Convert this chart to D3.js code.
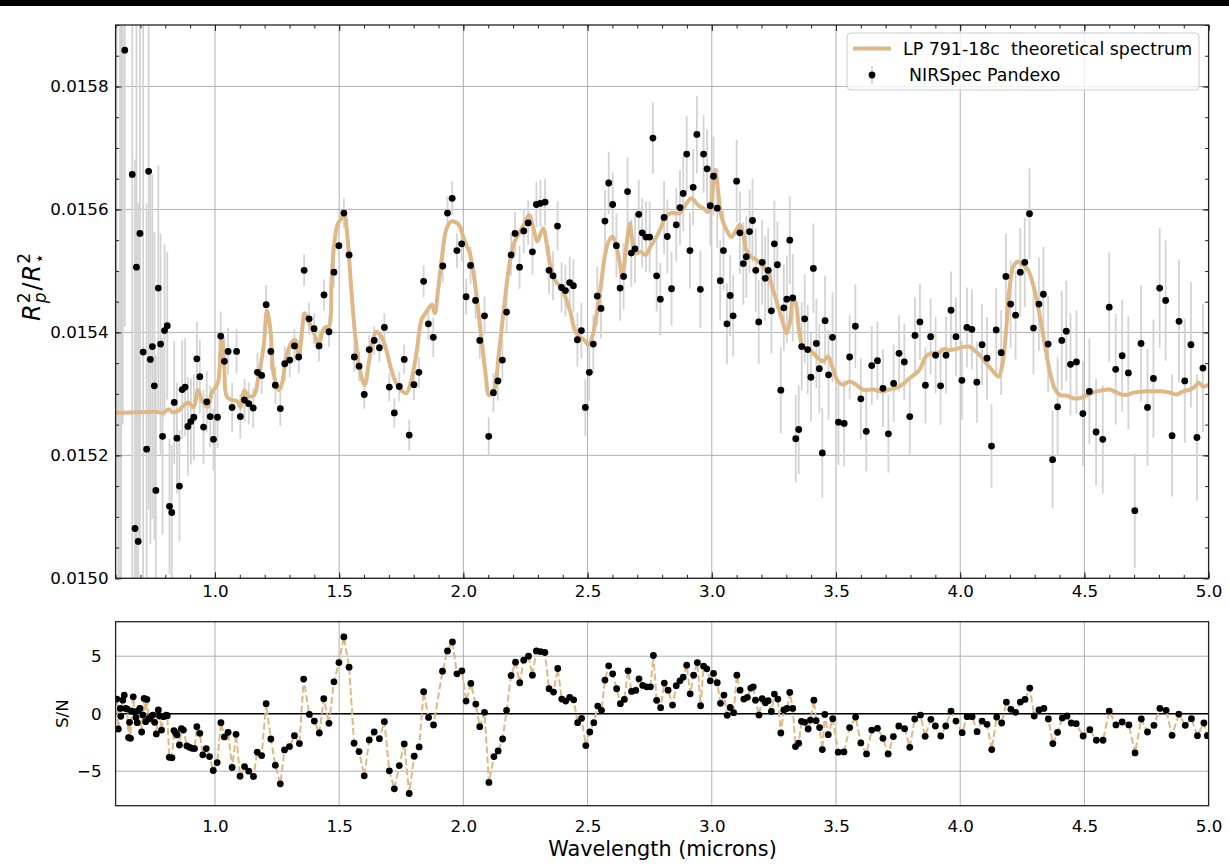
<!DOCTYPE html>
<html lang="en">
<head>
    <meta charset="UTF-8"/>
    <title>LP 791-18c transmission spectrum</title>
    <script src="https://d3js.org/d3.v7.min.js"></script>
    <style>
        body { margin: 0; background: #fff; }
        text { font-family: "DejaVu Sans", sans-serif; fill: #000; }
    </style>
</head>
<body>
<script>
    // model spectrum [wavelength, Rp^2/R*^2]
    var modelSpectrum = [[0.600,0.015269],[0.700,0.015270],[0.760,0.015271],[0.790,0.015269],[0.814,0.015275],[0.830,0.015270],[0.854,0.015273],[0.874,0.015281],[0.894,0.015286],[0.914,0.015278],[0.932,0.015306],[0.948,0.015289],[0.971,0.015279],[0.988,0.015303],[1.004,0.015312],[1.014,0.015322],[1.026,0.015394],[1.037,0.015350],[1.048,0.015295],[1.070,0.015290],[1.090,0.015288],[1.102,0.015278],[1.118,0.015306],[1.135,0.015297],[1.156,0.015297],[1.176,0.015330],[1.196,0.015377],[1.2095,0.015435],[1.223,0.015405],[1.236,0.015333],[1.257,0.015306],[1.270,0.015317],[1.286,0.015358],[1.307,0.015383],[1.323,0.015388],[1.337,0.015358],[1.350,0.015400],[1.361,0.015431],[1.374,0.015420],[1.395,0.015403],[1.418,0.015380],[1.435,0.015404],[1.448,0.015409],[1.460,0.015410],[1.469,0.015480],[1.479,0.015540],[1.493,0.015575],[1.509,0.015586],[1.520,0.015594],[1.533,0.015556],[1.549,0.015469],[1.565,0.015393],[1.583,0.015339],[1.603,0.015315],[1.619,0.015350],[1.636,0.015388],[1.650,0.015401],[1.670,0.015393],[1.690,0.015371],[1.710,0.015339],[1.730,0.015317],[1.750,0.015306],[1.770,0.015301],[1.791,0.015323],[1.811,0.015366],[1.831,0.015420],[1.847,0.015431],[1.860,0.015439],[1.874,0.015445],[1.885,0.015431],[1.898,0.015469],[1.914,0.015523],[1.931,0.015567],[1.949,0.015580],[1.965,0.015580],[1.982,0.015575],[1.999,0.015556],[2.012,0.015542],[2.025,0.015530],[2.039,0.015502],[2.055,0.015453],[2.072,0.015393],[2.090,0.015330],[2.103,0.015298],[2.123,0.015306],[2.143,0.015366],[2.164,0.015442],[2.184,0.015507],[2.204,0.015545],[2.224,0.015561],[2.244,0.015575],[2.264,0.015591],[2.282,0.015569],[2.298,0.015548],[2.311,0.015561],[2.322,0.015569],[2.335,0.015545],[2.351,0.015507],[2.372,0.015483],[2.392,0.015474],[2.412,0.015456],[2.432,0.015431],[2.448,0.015404],[2.466,0.015393],[2.486,0.015388],[2.502,0.015380],[2.519,0.015393],[2.537,0.015431],[2.553,0.015474],[2.569,0.015523],[2.585,0.015548],[2.600,0.015556],[2.613,0.015545],[2.627,0.015518],[2.640,0.015493],[2.653,0.015529],[2.670,0.015577],[2.680,0.015550],[2.694,0.015529],[2.714,0.015531],[2.734,0.015526],[2.754,0.015540],[2.774,0.015553],[2.794,0.015569],[2.814,0.015588],[2.835,0.015594],[2.871,0.015594],[2.891,0.015605],[2.918,0.015618],[2.945,0.015607],[2.965,0.015602],[2.985,0.015596],[2.998,0.015610],[3.008,0.015653],[3.014,0.015664],[3.025,0.015632],[3.039,0.015588],[3.059,0.015567],[3.079,0.015555],[3.099,0.015567],[3.112,0.015575],[3.126,0.015561],[3.139,0.015534],[3.159,0.015523],[3.180,0.015518],[3.206,0.015507],[3.226,0.015496],[3.247,0.015469],[3.267,0.015442],[3.287,0.015415],[3.300,0.015399],[3.314,0.015415],[3.327,0.015453],[3.338,0.015448],[3.351,0.015404],[3.367,0.015377],[3.394,0.015372],[3.421,0.015361],[3.448,0.015353],[3.468,0.015361],[3.485,0.015344],[3.508,0.015320],[3.528,0.015315],[3.555,0.015320],[3.581,0.015315],[3.608,0.015307],[3.648,0.015307],[3.688,0.015304],[3.715,0.015307],[3.755,0.015312],[3.795,0.015325],[3.836,0.015339],[3.862,0.015361],[3.883,0.015366],[3.909,0.015366],[3.936,0.015373],[3.956,0.015371],[3.983,0.015373],[4.010,0.015376],[4.037,0.015377],[4.057,0.015371],[4.084,0.015361],[4.111,0.015347],[4.138,0.015334],[4.155,0.015328],[4.171,0.015350],[4.185,0.015404],[4.198,0.015469],[4.214,0.015507],[4.231,0.015515],[4.252,0.015510],[4.272,0.015502],[4.292,0.015480],[4.321,0.015426],[4.342,0.015377],[4.362,0.015334],[4.382,0.015307],[4.402,0.015298],[4.429,0.015297],[4.456,0.015293],[4.483,0.015293],[4.509,0.015298],[4.550,0.015304],[4.603,0.015307],[4.630,0.015302],[4.664,0.015298],[4.697,0.015302],[4.737,0.015304],[4.778,0.015304],[4.818,0.015304],[4.845,0.015302],[4.872,0.015299],[4.898,0.015304],[4.925,0.015307],[4.945,0.015312],[4.959,0.015318],[4.979,0.015312],[5.000,0.015315]];

    // simulated NIRSpec points [wavelength, depth, 1-sigma error]
    var pandexoPoints = [[0.604,0.01630,0.0012],[0.611,0.01420,0.0013],[0.618,0.01620,0.0020],[0.622,0.01475,0.0022],[0.629,0.01615,0.0009],
        [0.637,0.015859,0.00045],[0.667,0.015657,0.00080],[0.678,0.015081,0.00060],[0.684,0.015506,0.00070],[0.691,0.015060,0.00055],[0.698,0.015561,0.00050],[0.711,0.015368,0.00060],[0.725,0.015210,0.00040],[0.733,0.015662,0.00055],[0.740,0.015356,0.00030],[0.748,0.015377,0.00028],[0.756,0.015313,0.00025],[0.762,0.015143,0.00022],[0.772,0.015472,0.00020],[0.781,0.015381,0.00018],[0.789,0.015231,0.00016],[0.797,0.015403,0.00014],[0.808,0.015411,0.00012],[0.817,0.015117,0.00011],[0.826,0.015107,0.00011],[0.836,0.015286,0.00010],[0.847,0.015228,0.00009],[0.857,0.015150,0.00009],[0.868,0.015307,0.00008],[0.880,0.015311,0.00008],[0.891,0.015247,0.00008],[0.903,0.015255,0.00007],[0.915,0.015262,0.00007],[0.927,0.015357,0.00006],[0.939,0.015328,0.00006],[0.954,0.015246,0.00006],[0.967,0.015287,0.00005],[0.981,0.015263,0.00005],[0.994,0.015226,0.00005],
        [1.010,0.015262,0.000050],[1.023,0.015394,0.000040],[1.038,0.015353,0.000040],[1.053,0.015369,0.000038],[1.069,0.015278,0.000040],[1.087,0.015369,0.000036],[1.102,0.015263,0.000036],[1.119,0.015290,0.000034],[1.136,0.015284,0.000034],[1.154,0.015277,0.000032],[1.171,0.015335,0.000032],[1.188,0.015330,0.000030],[1.206,0.015445,0.000032],[1.225,0.015369,0.000030],[1.243,0.015314,0.000030],[1.263,0.015276,0.000028],[1.281,0.015349,0.000028],[1.301,0.015355,0.000028],[1.320,0.015378,0.000027],[1.337,0.015360,0.000027],
        [1.359,0.015501,0.000026],[1.379,0.015422,0.000026],[1.399,0.015406,0.000025],[1.419,0.015378,0.000025],[1.439,0.015461,0.000025],[1.459,0.015401,0.000025],[1.479,0.015498,0.000025],[1.499,0.015541,0.000024],[1.519,0.015594,0.000024],[1.540,0.015526,0.000024],[1.561,0.015360,0.000024],[1.580,0.015345,0.000024],[1.601,0.015299,0.000023],[1.621,0.015372,0.000023],[1.641,0.015387,0.000023],[1.662,0.015375,0.000023],[1.682,0.015408,0.000023],[1.702,0.015311,0.000023],[1.722,0.015269,0.000024],[1.742,0.015312,0.000024],[1.762,0.015356,0.000024],[1.782,0.015233,0.000025],[1.801,0.015315,0.000025],[1.821,0.015335,0.000025],[1.840,0.015483,0.000026],[1.859,0.015414,0.000026],[1.879,0.015392,0.000032],[1.917,0.015508,0.000027],[1.936,0.015594,0.000027],[1.955,0.015618,0.000028],[1.974,0.015533,0.000028],[1.993,0.015544,0.000029],[2.011,0.015458,0.000029],[2.029,0.015509,0.000030],[2.049,0.015452,0.000030],[2.066,0.015387,0.000030],[2.085,0.015427,0.000031],
        [2.102,0.015231,0.000031],[2.121,0.015302,0.000032],[2.139,0.015321,0.000032],[2.157,0.015355,0.000033],[2.174,0.015433,0.000033],[2.192,0.015526,0.000034],[2.208,0.015561,0.000035],[2.226,0.015506,0.000035],[2.243,0.015565,0.000036],[2.261,0.015578,0.000036],[2.278,0.015531,0.000037],[2.294,0.015608,0.000037],[2.310,0.015610,0.000038],[2.329,0.015612,0.000038],[2.345,0.015501,0.000039],[2.361,0.015492,0.000040],[2.379,0.015573,0.000040],[2.395,0.015473,0.000041],[2.411,0.015468,0.000042],[2.428,0.015481,0.000042],[2.443,0.015476,0.000043],[2.459,0.015388,0.000044],[2.475,0.015403,0.000045],[2.491,0.015278,0.000046],[2.507,0.015335,0.000046],[2.523,0.015381,0.000047],[2.539,0.015459,0.000048],[2.554,0.015439,0.000049],[2.570,0.015581,0.000050],[2.585,0.015643,0.000051],[2.601,0.015608,0.000052],[2.616,0.015541,0.000052],[2.631,0.015472,0.000053],[2.645,0.015491,0.000054],[2.661,0.015629,0.000055],[2.676,0.015529,0.000055],[2.691,0.015536,0.000056],[2.706,0.015592,0.000056],[2.720,0.015562,0.000057],[2.735,0.015555,0.000057],[2.750,0.015555,0.000058],[2.763,0.015716,0.000058],[2.778,0.015492,0.000058],[2.793,0.015454,0.000059],[2.808,0.015587,0.000059],[2.821,0.015556,0.000060],[2.838,0.015471,0.000060],
        [2.857,0.015575,0.000060],[2.872,0.015603,0.000061],[2.885,0.015626,0.000061],[2.899,0.015690,0.000062],[2.912,0.015533,0.000062],[2.925,0.015636,0.000062],[2.940,0.015722,0.000063],[2.954,0.015470,0.000063],[2.967,0.015690,0.000063],[2.981,0.015666,0.000064],[2.994,0.015606,0.000064],[3.007,0.015654,0.000064],[3.022,0.015602,0.000065],[3.034,0.015484,0.000065],[3.047,0.015533,0.000065],[3.061,0.015414,0.000066],[3.074,0.015460,0.000066],[3.086,0.015427,0.000066],[3.100,0.015646,0.000067],[3.113,0.015562,0.000067],[3.127,0.015512,0.000067],[3.139,0.015523,0.000067],[3.152,0.015564,0.000068],[3.164,0.015582,0.000068],[3.177,0.015501,0.000068],[3.189,0.015417,0.000068],[3.203,0.015514,0.000069],[3.215,0.015488,0.000069],[3.227,0.015501,0.000069],[3.240,0.015435,0.000069],[3.252,0.015544,0.000070],[3.264,0.015510,0.000070],[3.278,0.015306,0.000070],[3.290,0.015440,0.000070],[3.302,0.015454,0.000071],[3.314,0.015550,0.000071],[3.326,0.015456,0.000071],[3.338,0.015227,0.000071],[3.350,0.015242,0.000072],[3.362,0.015377,0.000072],[3.374,0.015422,0.000072],[3.386,0.015372,0.000072],[3.399,0.015327,0.000072],[3.409,0.015504,0.000073],[3.421,0.015382,0.000073],[3.433,0.015341,0.000073],[3.445,0.015204,0.000073],[3.456,0.015419,0.000073],[3.470,0.015331,0.000073],[3.486,0.015392,0.000073],[3.510,0.015254,0.000070],[3.533,0.015252,0.000070],[3.555,0.015360,0.000068],[3.578,0.015410,0.000068],
        [3.600,0.015292,0.000066],[3.622,0.015239,0.000065],[3.644,0.015346,0.000064],[3.667,0.015354,0.000064],[3.689,0.015309,0.000063],[3.711,0.015235,0.000063],[3.732,0.015317,0.000063],[3.754,0.015366,0.000062],[3.775,0.015352,0.000062],[3.797,0.015263,0.000062],[3.818,0.015395,0.000062],[3.838,0.015417,0.000062],[3.860,0.015314,0.000062],[3.881,0.015393,0.000062],[3.901,0.015363,0.000062],[3.921,0.015313,0.000063],[3.943,0.015363,0.000063],[3.963,0.015436,0.000063],[3.983,0.015393,0.000064],[4.007,0.015322,0.000064],[4.027,0.015408,0.000065],[4.047,0.015405,0.000065],[4.067,0.015319,0.000066],[4.088,0.015380,0.000066],[4.108,0.015358,0.000067],[4.126,0.015215,0.000068],[4.145,0.015404,0.000068],[4.165,0.015367,0.000069],[4.184,0.015491,0.000070],[4.203,0.015446,0.000071],[4.223,0.015428,0.000072],[4.242,0.015498,0.000072],[4.260,0.015514,0.000073],[4.279,0.015593,0.000074],[4.295,0.015407,0.000075],
        [4.317,0.015446,0.000076],[4.335,0.015462,0.000077],[4.354,0.015381,0.000078],[4.372,0.015193,0.000079],[4.392,0.015279,0.000080],[4.409,0.015387,0.000081],[4.427,0.015402,0.000082],[4.444,0.015348,0.000083],[4.468,0.015352,0.000084],[4.494,0.015268,0.000085],[4.520,0.015304,0.000086],[4.547,0.015238,0.000087],[4.574,0.015226,0.000088],[4.600,0.015441,0.000089],[4.626,0.015340,0.000090],[4.652,0.015362,0.000091],[4.677,0.015334,0.000092],[4.703,0.015110,0.000093],[4.728,0.015382,0.000094],[4.754,0.015278,0.000095],[4.778,0.015325,0.000096],[4.803,0.015472,0.000097],[4.827,0.015452,0.000098],[4.853,0.015232,0.000099],[4.881,0.015418,0.000100],[4.904,0.015321,0.000101],[4.929,0.015380,0.000102],[4.953,0.015229,0.000103],[4.977,0.015342,0.000104]];

    // signal to noise of each point vs the flat line [wavelength, S/N]
    var snrPoints = [[0.605,1.27],[0.611,-1.33],[0.619,0.46],[0.621,-0.23],[0.629,1.18],[0.635,1.62],[0.640,0.46],[0.647,0.40],[0.652,-2.08],[0.656,-0.75],[0.660,-2.14],[0.664,0.23],[0.671,1.47],[0.676,0.17],[0.682,-0.32],[0.687,-0.78],[0.692,0.26],[0.698,0.46],[0.705,-1.59],[0.710,-0.12],[0.715,1.33],[0.721,-0.69],[0.726,1.24],[0.734,-0.46],[0.739,-0.32],[0.750,-0.12],[0.757,-0.75],[0.764,-1.76],[0.772,0.32],[0.777,-0.20],[0.785,-1.42],[0.793,-0.26],[0.804,-0.12],[0.808,-0.17],[0.816,-3.79],[0.827,-3.84],[0.835,-1.47],[0.841,-1.65],[0.847,-1.85],[0.857,-2.72],[0.865,-1.30],[0.873,-1.42],[0.887,-2.80],[0.898,-2.92],[0.908,-3.01],[0.918,-3.03],[0.927,-1.13],[0.939,-1.71],[0.951,-3.58],[0.965,-3.03],[0.978,-3.73],[0.993,-4.94],[1.009,-4.25],[1.024,-0.78],[1.038,-2.02],[1.053,-1.62],[1.069,-4.68],[1.085,-1.79],[1.101,-5.43],[1.119,-4.60],[1.136,-5.00],[1.155,-5.46],[1.170,-3.35],[1.188,-3.64],[1.206,0.87],[1.225,-2.20],[1.243,-4.48],[1.263,-6.10],[1.280,-3.15],[1.300,-2.86],[1.320,-1.91],[1.340,-2.60],[1.357,3.01],[1.380,-0.06],[1.400,-0.64],[1.420,-1.68],[1.438,1.30],[1.459,-0.84],[1.479,2.77],[1.499,4.45],[1.519,6.68],[1.540,4.05],[1.560,-2.57],[1.580,-3.29],[1.601,-5.40],[1.621,-2.28],[1.641,-1.59],[1.662,-2.17],[1.682,-0.69],[1.702,-4.97],[1.722,-6.53],[1.742,-4.51],
        [1.762,-2.63],[1.782,-6.94],[1.802,-3.70],[1.822,-2.89],[1.840,1.91],[1.860,-0.32],[1.880,-0.98],[1.916,3.70],[1.936,5.46],[1.956,6.24],[1.974,3.47],[1.994,3.73],[2.011,1.10],[2.030,2.63],[2.050,0.84],[2.066,-1.13],[2.085,0.12],[2.103,-5.98],[2.123,-3.73],[2.140,-3.24],[2.158,-2.20],[2.174,0.29],[2.192,3.32],[2.210,4.48],[2.227,2.69],[2.243,4.65],[2.262,5.00],[2.278,3.35],[2.294,5.46],[2.310,5.40],[2.328,5.32],[2.345,2.17],[2.363,1.88],[2.380,3.93],[2.396,1.27],[2.412,1.10],[2.428,1.42],[2.444,1.21],[2.460,-0.78],[2.476,-0.40],[2.493,-2.77],[2.509,-1.59],[2.525,-0.78],[2.541,0.66],[2.556,0.29],[2.570,2.92],[2.585,4.16],[2.601,3.47],[2.617,2.17],[2.632,0.87],[2.648,1.24],[2.663,3.73],[2.677,1.94],[2.694,2.02],[2.707,3.03],[2.722,2.46],[2.738,2.34],[2.753,2.34],[2.765,5.06],[2.778,1.16],[2.794,0.52],[2.809,2.66],[2.824,2.05],[2.842,0.75],[2.857,2.43],[2.872,2.86],[2.885,3.18],[2.899,4.22],[2.913,1.73],[2.927,3.35],[2.942,4.45],[2.955,0.69],[2.967,4.13],[2.980,3.90],[2.994,2.86],[3.007,3.50],[3.022,2.69],[3.035,0.90],[3.049,1.62],[3.062,-0.14],[3.074,0.55],[3.088,0.09],[3.101,3.35],[3.114,2.05],[3.129,1.27],[3.143,1.42],[3.157,2.23],[3.167,2.34],[3.176,1.18],[3.190,-0.12],[3.203,1.30],[3.216,0.95],[3.227,1.13],[3.240,0.20],[3.252,1.71],[3.266,1.27],[3.278,-1.68],[3.290,0.32],[3.303,0.46],[3.314,1.85],[3.326,0.46],[3.337,-2.86],[3.350,-2.57],[3.361,-0.66],[3.374,-0.75],[3.388,-1.33],[3.397,-0.55],[3.411,1.18],
        [3.420,-0.61],[3.434,-1.21],[3.445,-3.12],[3.455,-0.06],[3.469,-1.82],[3.487,-0.43],[3.509,-3.35],[3.532,-3.32],[3.555,-1.21],[3.579,-0.29],[3.600,-2.54],[3.623,-3.50],[3.644,-1.42],[3.667,-1.27],[3.689,-2.14],[3.710,-3.50],[3.731,-1.99],[3.753,-1.07],[3.776,-1.30],[3.797,-2.92],[3.817,-0.46],[3.840,-0.12],[3.859,-1.97],[3.882,-0.49],[3.900,-1.07],[3.922,-1.94],[3.942,-1.07],[3.963,0.23],[3.983,-0.64],[4.008,-1.65],[4.028,-0.26],[4.048,-0.26],[4.068,-1.56],[4.088,-0.64],[4.108,-0.92],[4.127,-3.12],[4.147,-0.29],[4.167,-0.81],[4.186,1.01],[4.204,0.38],[4.223,0.12],[4.242,1.01],[4.261,1.24],[4.280,2.23],[4.298,-0.20],[4.317,0.32],[4.337,0.46],[4.355,-0.46],[4.373,-2.60],[4.392,-1.62],[4.411,-0.38],[4.430,-0.20],[4.447,-0.81],[4.467,-0.87],[4.495,-1.94],[4.522,-1.39],[4.548,-2.31],[4.575,-2.31],[4.600,0.23],[4.627,-0.98],[4.652,-0.72],[4.679,-0.98],[4.704,-3.41],[4.729,-0.46],[4.754,-1.59],[4.780,-1.01],[4.804,0.46],[4.829,0.29],[4.853,-1.88],[4.880,-0.03],[4.906,-1.01],[4.931,-0.43],[4.955,-1.91],[4.981,-0.81],[4.995,-1.91]];

    var waveTicks = [1.0, 1.5, 2.0, 2.5, 3.0, 3.5, 4.0, 4.5, 5.0];
    var depthTicks = [0.0150, 0.0152, 0.0154, 0.0156, 0.0158];
    var snrTicks = [-5, 0, 5];
    var legendLabels = ["LP 791-18c  theoretical spectrum", "NIRSpec Pandexo"];

    var w = 1229, h = 865;
    var left = 115.6, right = 1208.6;
    var top1 = 25, bottom1 = 578.3;
    var top2 = 621.7, bottom2 = 805.7;
    var tan = "#deb887", gridColor = "#b0b0b0";

    var svg = d3.select("body").append("svg")
        .attr("width", w).attr("height", h);

    svg.append("rect").attr("x", 0).attr("y", 0).attr("width", w).attr("height", 6).attr("fill", "#000");

    var xScale = d3.scaleLinear().domain([0.6, 5.0]).range([left, right]);
    var yScale = d3.scaleLinear().domain([0.0150, 0.0159]).range([bottom1, top1]);
    var sScale = d3.scaleLinear().domain([-8, 8]).range([bottom2, top2]);

    var defs = svg.append("defs");
    defs.append("clipPath").attr("id", "clipTop").append("rect")
        .attr("x", left).attr("y", top1).attr("width", right - left).attr("height", bottom1 - top1);
    defs.append("clipPath").attr("id", "clipBot").append("rect")
        .attr("x", left).attr("y", top2).attr("width", right - left).attr("height", bottom2 - top2);

    // ---------- top panel ----------
    var g1 = svg.append("g");
    g1.selectAll(".vgrid").data(waveTicks).enter().append("line")
        .attr("x1", function(d){ return xScale(d); }).attr("x2", function(d){ return xScale(d); })
        .attr("y1", top1).attr("y2", bottom1)
        .attr("stroke", gridColor).attr("stroke-width", 1);
    g1.selectAll(".hgrid").data(depthTicks).enter().append("line")
        .attr("x1", left).attr("x2", right)
        .attr("y1", function(d){ return yScale(d); }).attr("y2", function(d){ return yScale(d); })
        .attr("stroke", gridColor).attr("stroke-width", 1);

    var plot1 = g1.append("g").attr("clip-path", "url(#clipTop)");
    plot1.selectAll(".err").data(pandexoPoints).enter().append("line")
        .attr("x1", function(d){ return xScale(d[0]); }).attr("x2", function(d){ return xScale(d[0]); })
        .attr("y1", function(d){ return yScale(d[1] - d[2]); })
        .attr("y2", function(d){ return yScale(d[1] + d[2]); })
        .attr("stroke", "#d3d3d3").attr("stroke-width", 1.8);

    var modelLine = d3.line()
        .x(function(d){ return xScale(d[0]); })
        .y(function(d){ return yScale(d[1]); })
        .curve(d3.curveCatmullRom);
    plot1.append("path").datum(modelSpectrum)
        .attr("d", modelLine)
        .attr("fill", "none").attr("stroke", tan).attr("stroke-width", 4)
        .attr("stroke-linejoin", "round");

    plot1.selectAll(".pt").data(pandexoPoints).enter().append("circle")
        .attr("cx", function(d){ return xScale(d[0]); })
        .attr("cy", function(d){ return yScale(d[1]); })
        .attr("r", 3.4).attr("fill", "#000");

    // axes with inward ticks, minor ticks on all four sides
    var minorX = d3.range(6, 51).map(function(i){ return i / 10; });
    var minorY = d3.range(0, 19).map(function(i){ return 0.0150 + i * 0.00005; });
    function tickStyle(sel) {
        sel.select(".domain").remove();
        sel.selectAll("line").attr("stroke", "#222").attr("stroke-width", 1);
        sel.selectAll("text").attr("font-size", 16.7).attr("font-family", "DejaVu Sans");
    }
    g1.append("g").attr("transform", "translate(0," + bottom1 + ")")
        .call(d3.axisBottom(xScale).tickValues(minorX).tickSize(-3.5).tickFormat(""))
        .call(tickStyle);
    g1.append("g").attr("transform", "translate(0," + bottom1 + ")")
        .call(d3.axisBottom(xScale).tickValues(waveTicks).tickSize(-6).tickPadding(7).tickFormat(d3.format(".1f")))
        .call(tickStyle);
    g1.append("g").attr("transform", "translate(0," + top1 + ")")
        .call(d3.axisTop(xScale).tickValues(minorX).tickSize(-3.5).tickFormat(""))
        .call(tickStyle);
    g1.append("g").attr("transform", "translate(0," + top1 + ")")
        .call(d3.axisTop(xScale).tickValues(waveTicks).tickSize(-6).tickFormat(""))
        .call(tickStyle);
    g1.append("g").attr("transform", "translate(" + left + ",0)")
        .call(d3.axisLeft(yScale).tickValues(minorY).tickSize(-3.5).tickFormat(""))
        .call(tickStyle);
    g1.append("g").attr("transform", "translate(" + left + ",0)")
        .call(d3.axisLeft(yScale).tickValues(depthTicks).tickSize(-6).tickPadding(7).tickFormat(d3.format(".4f")))
        .call(tickStyle);
    g1.append("g").attr("transform", "translate(" + right + ",0)")
        .call(d3.axisRight(yScale).tickValues(minorY).tickSize(-3.5).tickFormat(""))
        .call(tickStyle);
    g1.append("g").attr("transform", "translate(" + right + ",0)")
        .call(d3.axisRight(yScale).tickValues(depthTicks).tickSize(-6).tickFormat(""))
        .call(tickStyle);

    g1.append("rect").attr("x", left).attr("y", top1)
        .attr("width", right - left).attr("height", bottom1 - top1)
        .attr("fill", "none").attr("stroke", "#222").attr("stroke-width", 1.3);

    // y label R_p^2 / R_*^2 (mathtext style)
    var ylab = svg.append("text")
        .attr("transform", "translate(40,287) rotate(-90)")
        .attr("text-anchor", "middle").attr("font-size", 24);
    ylab.append("tspan").attr("font-style", "italic").text("R");
    ylab.append("tspan").attr("font-size", 17).attr("dx", 1).attr("dy", -10).text("2");
    ylab.append("tspan").attr("font-size", 17).attr("font-style", "italic").attr("dx", -10.8).attr("dy", 16).text("p");
    ylab.append("tspan").attr("dx", 2).attr("dy", -6).text("/");
    ylab.append("tspan").attr("font-style", "italic").attr("dx", 1).text("R");
    ylab.append("tspan").attr("font-size", 17).attr("dx", 1).attr("dy", -10).text("2");
    ylab.append("tspan").attr("font-size", 17).attr("dx", -10.8).attr("dy", 15).text("\u22C6");

    // legend
    var leg = svg.append("g");
    leg.append("rect").attr("x", 847).attr("y", 33).attr("width", 352).attr("height", 57)
        .attr("rx", 4).attr("fill", "#fff").attr("fill-opacity", 0.8)
        .attr("stroke", "#cccccc").attr("stroke-width", 1);
    leg.append("line").attr("x1", 853).attr("x2", 891).attr("y1", 48.5).attr("y2", 48.5)
        .attr("stroke", tan).attr("stroke-width", 4);
    leg.append("line").attr("x1", 872).attr("x2", 872).attr("y1", 66).attr("y2", 84)
        .attr("stroke", "#d3d3d3").attr("stroke-width", 1.8);
    leg.append("circle").attr("cx", 872).attr("cy", 75).attr("r", 3.4).attr("fill", "#000");
    leg.selectAll(".lt").data(legendLabels).enter().append("text")
        .attr("x", function(d, i){ return i === 0 ? 903 : 909; })
        .attr("y", function(d, i){ return i === 0 ? 54.5 : 81; })
        .attr("font-size", 17.4)
        .attr("xml:space", "preserve")
        .text(function(d){ return d; });

    // ---------- bottom panel ----------
    var g2 = svg.append("g");
    g2.selectAll(".vgrid2").data(waveTicks).enter().append("line")
        .attr("x1", function(d){ return xScale(d); }).attr("x2", function(d){ return xScale(d); })
        .attr("y1", top2).attr("y2", bottom2)
        .attr("stroke", gridColor).attr("stroke-width", 1);
    g2.selectAll(".hgrid2").data(snrTicks).enter().append("line")
        .attr("x1", left).attr("x2", right)
        .attr("y1", function(d){ return sScale(d); }).attr("y2", function(d){ return sScale(d); })
        .attr("stroke", gridColor).attr("stroke-width", 1);
    g2.append("line").attr("x1", left).attr("x2", right)
        .attr("y1", sScale(0)).attr("y2", sScale(0))
        .attr("stroke", "#000").attr("stroke-width", 1.6);

    var plot2 = g2.append("g").attr("clip-path", "url(#clipBot)");
    var snrLine = d3.line()
        .x(function(d){ return xScale(d[0]); })
        .y(function(d){ return sScale(d[1]); });
    plot2.append("path").datum(snrPoints)
        .attr("d", snrLine)
        .attr("fill", "none").attr("stroke", tan).attr("stroke-width", 2)
        .attr("stroke-dasharray", "7,3");
    plot2.selectAll(".sp").data(snrPoints).enter().append("circle")
        .attr("cx", function(d){ return xScale(d[0]); })
        .attr("cy", function(d){ return sScale(d[1]); })
        .attr("r", 3.4).attr("fill", "#000");

    g2.append("g").attr("transform", "translate(0," + bottom2 + ")")
        .call(d3.axisBottom(xScale).tickValues(waveTicks).tickSize(0).tickPadding(14).tickFormat(d3.format(".1f")))
        .call(tickStyle);
    g2.append("g").attr("transform", "translate(" + left + ",0)")
        .call(d3.axisLeft(sScale).tickValues(snrTicks).tickSize(0).tickPadding(14).tickFormat(d3.format("d")))
        .call(tickStyle);

    g2.append("rect").attr("x", left).attr("y", top2)
        .attr("width", right - left).attr("height", bottom2 - top2)
        .attr("fill", "none").attr("stroke", "#222").attr("stroke-width", 1.3);

    svg.append("text").attr("transform", "translate(68,713.7) rotate(-90)")
        .attr("text-anchor", "middle").attr("font-size", 16.7).text("S/N");
    svg.append("text").attr("x", 662.5).attr("y", 856)
        .attr("text-anchor", "middle").attr("font-size", 20.8).text("Wavelength (microns)");
</script>
</body>
</html>
